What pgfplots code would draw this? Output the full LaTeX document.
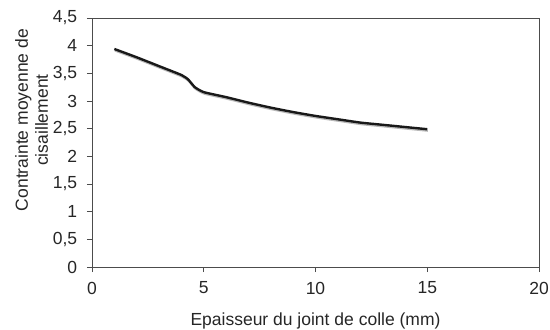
\documentclass[border=0pt]{standalone}
\usepackage{pgfplots}
\pgfplotsset{compat=1.18}
\usepackage{fontspec}
\setmainfont{Liberation Sans}
\begin{document}
\fontsize{17bp}{20bp}\selectfont
\begin{tikzpicture}
\pgfplotstableread{
x y
1 3.94
2 3.79
3 3.63
4 3.47
4.3 3.39
4.6 3.25
5 3.16
6 3.07
7 2.97
8 2.88
9 2.80
10 2.73
11 2.67
12 2.61
13 2.57
14 2.53
15 2.49
}\datatable
\begin{axis}[
  at={(0,0)}, anchor=south west,
  scale only axis,
  width=447bp, height=249bp,
  xmin=0, xmax=20, ymin=0, ymax=4.5,
  xtick={0,5,10,15,20},
  ytick={0,0.5,1,1.5,2,2.5,3,3.5,4,4.5},
  yticklabels={0,{0,5},1,{1,5},2,{2,5},3,{3,5},4,{4,5}},
  /pgf/number format/assume math mode=true,
  axis line style={black!70, line width=0.9bp},
  tick style={black!70, line width=0.9bp},
  tick align=outside,
  major tick length=5bp,
  xtick pos=bottom, ytick pos=left,
  ticklabel style={font=\fontsize{17.5bp}{20bp}\selectfont, text=black!85},
  xticklabel style={yshift=-4bp},
  yticklabel style={xshift=-4bp},
  xlabel={Epaisseur du joint de colle (mm)},
  every axis x label/.style={at={(axis description cs:0.5,0)}, anchor=north, yshift=-40bp, font=\fontsize{17.5bp}{20bp}\selectfont, text=black!85},
  ylabel={Contrainte moyenne de\\cisaillement},
  every axis y label/.style={at={(axis description cs:-0.135,0.59)}, rotate=90, anchor=center, align=center, font=\fontsize{17.5bp}{20bp}\selectfont, text=black!85},
]
\addplot[gray!55, line width=2.4bp, no marks, smooth, tension=0.3, xshift=0.6bp, yshift=-1.4bp] table[x=x,y=y] {\datatable};
\addplot[black!90, line width=2.4bp, no marks, smooth, tension=0.3] table[x=x,y=y] {\datatable};
\end{axis}
\pgfresetboundingbox
\path (-92bp,-63bp) rectangle (458bp,267bp);
\end{tikzpicture}
\end{document}
